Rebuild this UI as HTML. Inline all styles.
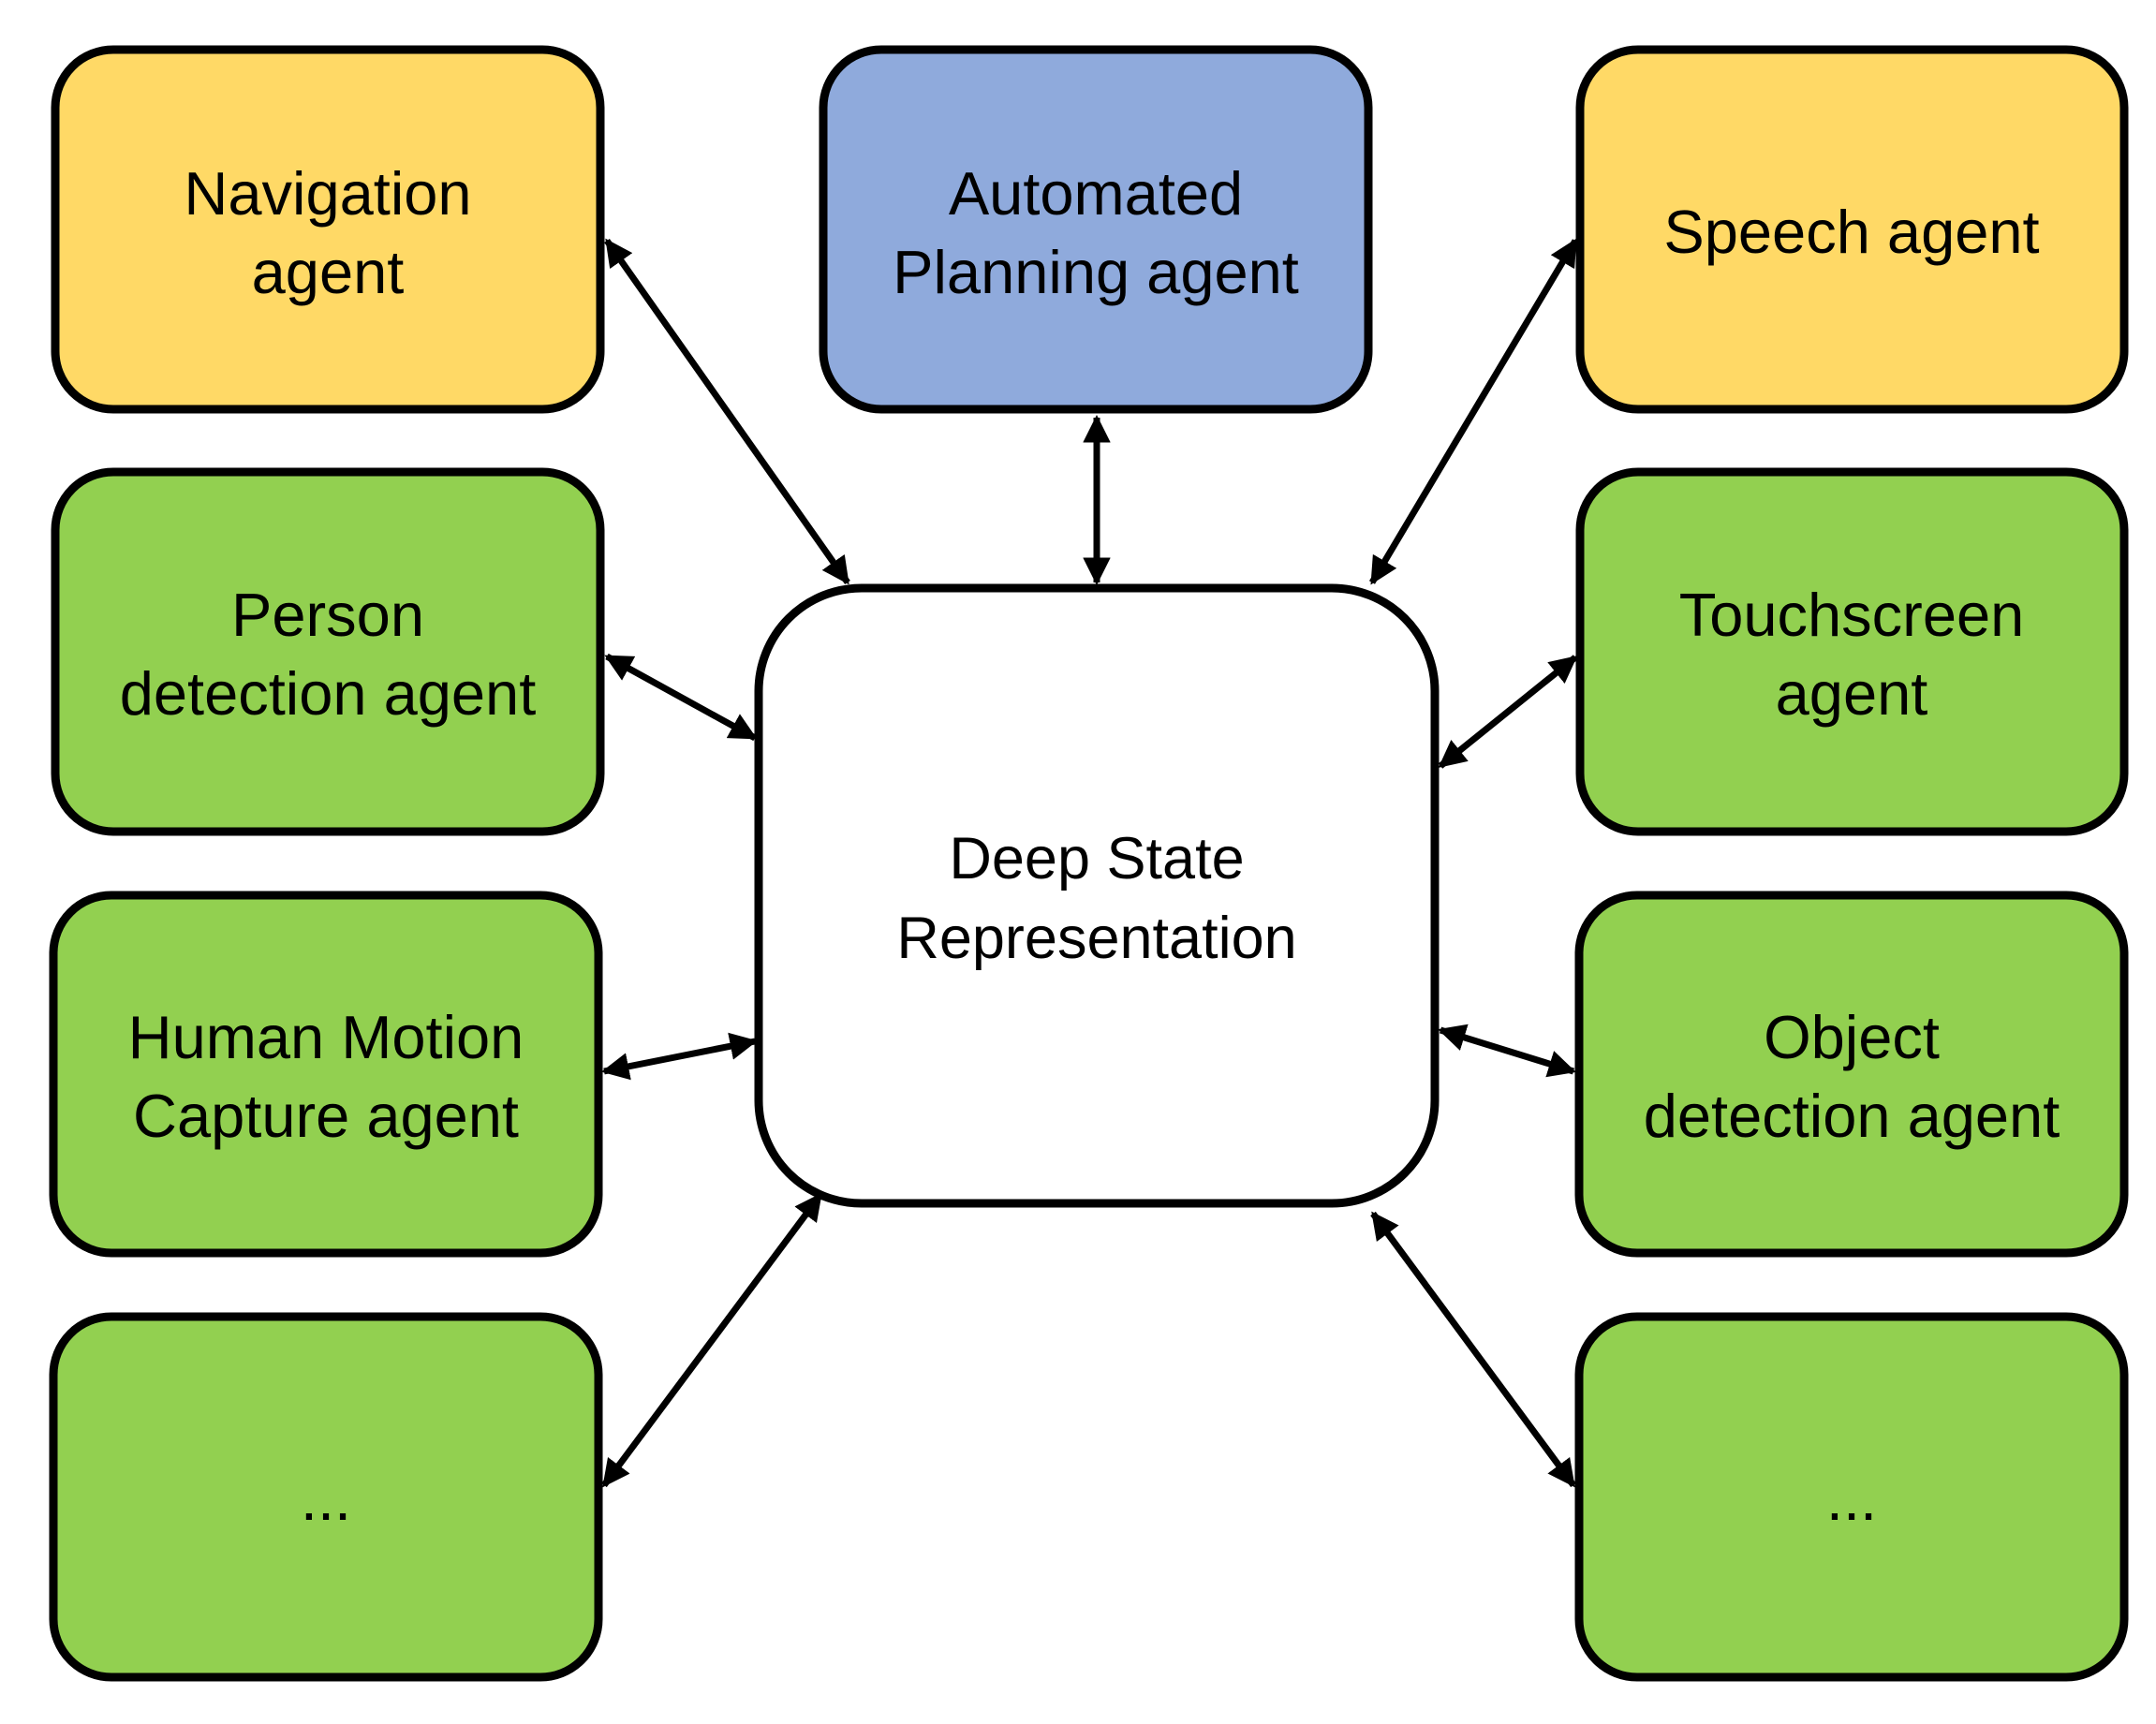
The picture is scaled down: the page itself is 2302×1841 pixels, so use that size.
<!DOCTYPE html>
<html><head><meta charset="utf-8"><style>
html,body{margin:0;padding:0;background:#fff;}
svg{display:block;}
text{font-family:"Liberation Sans",sans-serif;fill:#000;}
</style></head><body>
<svg width="2302" height="1841" viewBox="0 0 2302 1841" xmlns="http://www.w3.org/2000/svg">
<defs>
<marker id="a" viewBox="0 0 10 10" refX="9" refY="5" markerWidth="4.2" markerHeight="4.2" orient="auto-start-reverse" markerUnits="strokeWidth">
<path d="M0,0 L10,5 L0,10 z" fill="#000"/>
</marker>
</defs>
<g stroke="#000" stroke-width="9">
<rect x="59" y="53" width="582" height="384" rx="62" fill="#FFD966"/>
<rect x="879" y="53" width="582" height="384" rx="62" fill="#8FAADC"/>
<rect x="1687" y="53" width="581" height="384" rx="62" fill="#FFD966"/>
<rect x="59" y="504" width="582" height="384" rx="62" fill="#92D050"/>
<rect x="1687" y="504" width="581" height="384" rx="62" fill="#92D050"/>
<rect x="57" y="956" width="582" height="382" rx="62" fill="#92D050"/>
<rect x="1686" y="956" width="582" height="382" rx="62" fill="#92D050"/>
<rect x="57" y="1406" width="582" height="385" rx="62" fill="#92D050"/>
<rect x="1686" y="1406" width="582" height="385" rx="62" fill="#92D050"/>
<rect x="810" y="628" width="722" height="657" rx="110" fill="#fff"/>
</g>
<g stroke="#000" stroke-width="7" marker-start="url(#a)" marker-end="url(#a)">
<line x1="648" y1="257" x2="905" y2="622"/>
<line x1="1171" y1="446" x2="1171" y2="622"/>
<line x1="1682" y1="257" x2="1465" y2="622"/>
<line x1="648" y1="701" x2="806" y2="788"/>
<line x1="1682" y1="702" x2="1538" y2="818"/>
<line x1="645" y1="1144" x2="806" y2="1112"/>
<line x1="1680" y1="1144" x2="1538" y2="1100"/>
<line x1="645" y1="1586" x2="876" y2="1276"/>
<line x1="1680" y1="1586" x2="1466" y2="1296"/>
</g>
<g font-size="65" text-anchor="middle">
<text x="350" y="229">Navigation</text>
<text x="350" y="313">agent</text>
<text x="1170" y="229">Automated</text>
<text x="1170" y="313">Planning agent</text>
<text x="1977" y="270">Speech agent</text>
<text x="350" y="679">Person</text>
<text x="350" y="763">detection agent</text>
<text x="1977" y="679">Touchscreen</text>
<text x="1977" y="763">agent</text>
<text x="348" y="1130">Human Motion</text>
<text x="348" y="1214">Capture agent</text>
<text x="1977" y="1130">Object</text>
<text x="1977" y="1214">detection agent</text>
<text x="348" y="1623">...</text>
<text x="1977" y="1623">...</text>
</g>
<g font-size="63" text-anchor="middle">
<text x="1171" y="938">Deep State</text>
<text x="1171" y="1023">Representation</text>
</g>
</svg>
</body></html>
